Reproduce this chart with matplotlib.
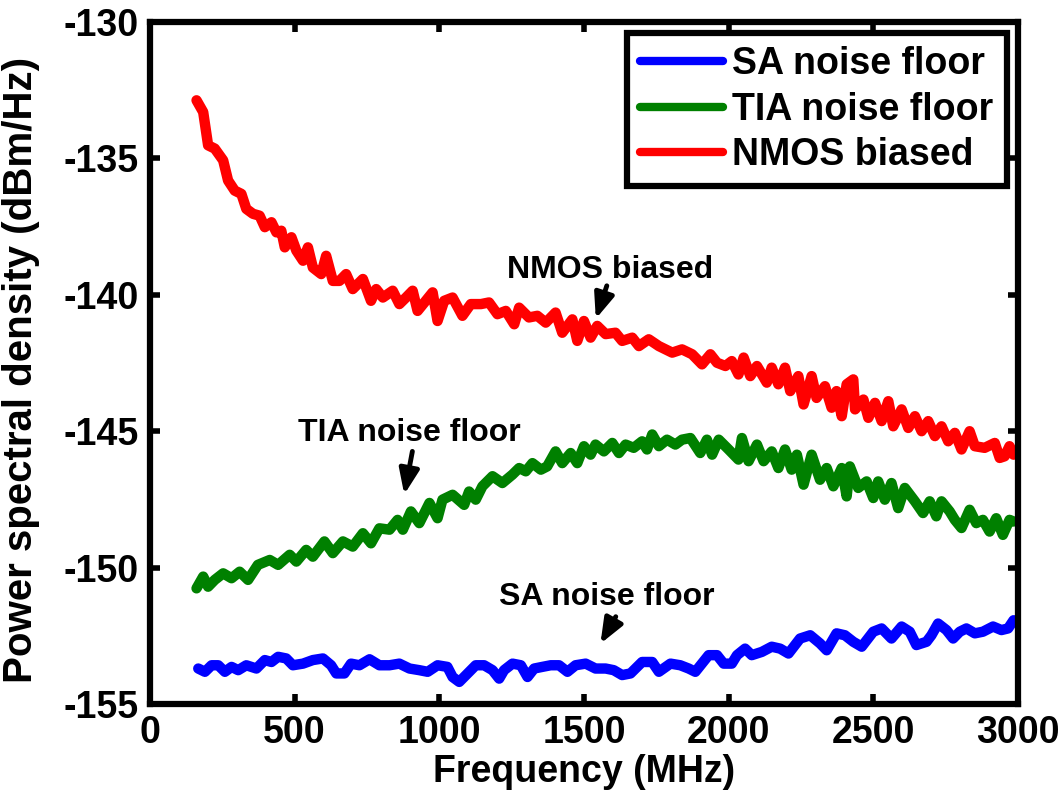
import matplotlib
matplotlib.use("Agg")
import matplotlib.pyplot as plt

# noise spectra (MHz, dBm/Hz)
nmos_freq = [161, 184, 201, 224, 253, 270, 293, 316, 333, 356, 379, 397, 420, 437, 454,
             466, 489, 506, 529, 546, 563, 592, 609, 632, 655, 678, 701, 736, 764, 782,
             805, 839, 862, 885, 908, 925, 977, 994, 1017, 1046, 1080, 1109, 1144, 1172,
             1201, 1230, 1259, 1276, 1310, 1339, 1368, 1402, 1425, 1460, 1477, 1500, 1523,
             1546, 1575, 1609, 1632, 1667, 1690, 1724, 1759, 1805, 1839, 1874, 1908, 1937,
             1960, 1989, 2011, 2034, 2052, 2075, 2098, 2132, 2149, 2172, 2195, 2213, 2241,
             2259, 2287, 2304, 2333, 2356, 2373, 2391, 2408, 2431, 2437, 2466, 2483, 2506,
             2529, 2552, 2569, 2598, 2621, 2644, 2667, 2690, 2713, 2736, 2759, 2782, 2805,
             2833, 2851, 2885, 2920, 2937, 2954, 2971, 2985]
nmos_psd = [-132.87, -133.30, -134.52, -134.64, -135.07, -135.81, -136.18, -136.30, -136.85,
            -137.03, -137.10, -137.52, -137.34, -137.71, -137.65, -138.26, -137.89, -138.38,
            -138.75, -138.26, -139.00, -139.24, -138.57, -139.49, -139.49, -139.24, -139.79,
            -139.42, -140.22, -139.79, -140.10, -139.85, -140.34, -140.10, -139.85, -140.59,
            -139.91, -140.96, -140.22, -140.10, -140.77, -140.34, -140.34, -140.28, -140.71,
            -140.59, -141.08, -140.47, -140.83, -140.77, -141.02, -140.65, -141.39, -140.90,
            -141.69, -140.96, -141.57, -141.14, -141.44, -141.39, -141.69, -141.57, -141.88,
            -141.63, -141.88, -142.12, -142.00, -142.18, -142.55, -142.18, -142.49, -142.61,
            -142.43, -142.92, -142.30, -142.98, -142.61, -143.22, -142.67, -143.28, -142.67,
            -143.53, -142.98, -144.02, -142.98, -143.78, -143.35, -144.14, -143.53, -144.45,
            -143.28, -143.10, -144.20, -143.84, -144.51, -143.96, -144.63, -143.90, -144.82,
            -144.20, -144.88, -144.45, -145.00, -144.63, -145.18, -144.82, -145.37, -145.06,
            -145.67, -145.00, -145.55, -145.61, -145.43, -145.98, -145.92, -145.55, -145.86]

tia_freq = [161, 184, 201, 224, 253, 282, 310, 339, 373, 414, 443, 483, 506, 540, 563, 603,
            632, 667, 701, 736, 764, 793, 828, 856, 874, 902, 931, 966, 994, 1011, 1046,
            1086, 1103, 1126, 1149, 1184, 1218, 1253, 1276, 1299, 1322, 1351, 1373, 1402,
            1425, 1454, 1477, 1500, 1523, 1540, 1569, 1598, 1621, 1644, 1672, 1701, 1718,
            1736, 1759, 1787, 1816, 1839, 1868, 1902, 1925, 1943, 1966, 2000, 2034, 2046,
            2069, 2098, 2121, 2149, 2172, 2195, 2218, 2236, 2259, 2287, 2316, 2339, 2362,
            2391, 2408, 2419, 2448, 2477, 2500, 2517, 2540, 2563, 2586, 2609, 2644, 2672,
            2695, 2718, 2736, 2764, 2782, 2805, 2833, 2856, 2879, 2902, 2925, 2948, 2971, 2985]
tia_psd = [-150.76, -150.33, -150.70, -150.45, -150.21, -150.39, -150.15, -150.45, -149.90,
           -149.72, -149.90, -149.53, -149.78, -149.35, -149.60, -149.04, -149.47, -149.04,
           -149.23, -148.74, -149.11, -148.56, -148.61, -148.25, -148.61, -147.94, -148.37,
           -147.63, -148.19, -147.51, -147.33, -147.70, -147.21, -147.51, -147.02, -146.65,
           -146.90, -146.59, -146.35, -146.47, -146.17, -146.41, -146.29, -145.74, -146.17,
           -145.80, -146.17, -145.55, -145.86, -145.49, -145.74, -145.43, -145.80, -145.49,
           -145.61, -145.37, -145.67, -145.12, -145.55, -145.31, -145.49, -145.31, -145.25,
           -145.80, -145.31, -145.86, -145.31, -145.67, -146.04, -145.25, -146.10, -145.49,
           -146.10, -145.74, -146.35, -145.67, -146.41, -145.86, -146.96, -145.86, -146.78,
           -146.35, -147.02, -146.35, -147.39, -146.29, -147.08, -146.84, -147.45, -146.84,
           -147.51, -146.90, -147.82, -147.08, -147.57, -148.00, -147.57, -148.12, -147.57,
           -147.94, -148.25, -148.55, -147.88, -148.37, -148.25, -148.68, -148.19, -148.80,
           -148.25, -148.31]

sa_freq = [167, 190, 213, 236, 259, 282, 305, 333, 368, 397, 420, 443, 471, 494, 529, 563,
           598, 626, 644, 672, 695, 724, 759, 793, 828, 862, 897, 931, 960, 994, 1028, 1046,
           1069, 1098, 1126, 1155, 1184, 1207, 1224, 1253, 1282, 1305, 1328, 1356, 1385,
           1414, 1443, 1471, 1506, 1540, 1575, 1603, 1632, 1661, 1701, 1736, 1759, 1799,
           1833, 1862, 1885, 1931, 1960, 1983, 2011, 2029, 2057, 2080, 2115, 2149, 2178,
           2207, 2247, 2282, 2316, 2339, 2373, 2402, 2431, 2460, 2500, 2529, 2563, 2598,
           2626, 2649, 2684, 2701, 2724, 2753, 2776, 2799, 2822, 2851, 2879, 2914, 2943,
           2966, 2985]
sa_psd = [-153.70, -153.82, -153.58, -153.58, -153.82, -153.64, -153.76, -153.58, -153.70,
          -153.39, -153.46, -153.27, -153.33, -153.58, -153.52, -153.39, -153.33, -153.58,
          -153.88, -153.88, -153.52, -153.58, -153.36, -153.58, -153.58, -153.52, -153.70,
          -153.76, -153.82, -153.58, -153.64, -154.01, -154.19, -153.88, -153.58, -153.58,
          -153.76, -154.07, -153.76, -153.52, -153.58, -154.01, -153.70, -153.64, -153.58,
          -153.58, -153.82, -153.58, -153.52, -153.70, -153.70, -153.76, -153.94, -153.88,
          -153.46, -153.46, -153.82, -153.52, -153.58, -153.70, -153.82, -153.21, -153.21,
          -153.52, -153.52, -153.21, -152.97, -153.21, -153.09, -152.90, -152.97, -153.15,
          -152.60, -152.48, -152.78, -153.03, -152.41, -152.48, -152.72, -152.90, -152.35,
          -152.23, -152.60, -152.16, -152.35, -152.84, -152.72, -152.48, -152.05, -152.29,
          -152.60, -152.35, -152.23, -152.41, -152.35, -152.16, -152.29, -152.23, -151.93]

series_labels = ["SA noise floor", "TIA noise floor", "NMOS biased"]
series_colors = ["#0000ff", "#008000", "#ff0000"]

plt.rcParams["font.family"] = ["Liberation Sans", "DejaVu Sans"]
plt.rcParams["font.weight"] = "bold"
plt.rcParams["axes.unicode_minus"] = False

fig = plt.figure(figsize=(10.62, 7.98), dpi=100)
ax = fig.add_axes([0.1412, 0.1178, 0.8173, 0.8546])

curves = [(sa_freq, sa_psd), (tia_freq, tia_psd), (nmos_freq, nmos_psd)]
for (f, p), lab, col in zip(curves, series_labels, series_colors):
    ax.plot(f, p, color=col, lw=7.5, label=lab,
            solid_capstyle="round", solid_joinstyle="round")

ax.set_xlim(0, 3000)
ax.set_ylim(-155, -130)
ax.set_xticks(range(0, 3001, 500))
ax.set_yticks(range(-155, -129, 5))
ax.tick_params(direction="in", length=7, width=4, top=True, right=True,
               labelsize=27, pad=8)
for s in ax.spines.values():
    s.set_linewidth(4.5)

ax.set_xlabel("Frequency (MHz)", fontsize=27, fontweight="bold", labelpad=2)
ax.set_ylabel("Power spectral density (dBm/Hz)", fontsize=29, fontweight="bold")
ax.yaxis.set_label_coords(-0.127, 0.49)

leg = ax.legend(loc="upper right", fontsize=27, frameon=True, fancybox=False,
                framealpha=1, handlelength=2.2, handletextpad=0.25,
                labelspacing=0.25, borderpad=0.35, borderaxespad=0.3)
leg.get_frame().set_edgecolor("black")
leg.get_frame().set_linewidth(4.5)
for h in leg.get_lines():
    h.set_linewidth(6)

arrow = dict(arrowstyle="-|>,head_length=1.5,head_width=0.6", color="black",
             lw=3.5, shrinkA=0, shrinkB=0)
ax.annotate("", xy=(1541, -140.88), xytext=(1579, -139.67), arrowprops=arrow)
ax.annotate("", xy=(879, -147.32), xytext=(907, -145.74), arrowprops=arrow)
ax.annotate("", xy=(1557, -152.79), xytext=(1610, -151.80), arrowprops=arrow)
ax.text(1590, -139.1, "NMOS biased", fontsize=23, fontweight="bold",
        ha="center", va="center")
ax.text(897, -145.07, "TIA noise floor", fontsize=23, fontweight="bold",
        ha="center", va="center")
ax.text(1579, -151.07, "SA noise floor", fontsize=23, fontweight="bold",
        ha="center", va="center")

fig.savefig("out.png", dpi=100)
